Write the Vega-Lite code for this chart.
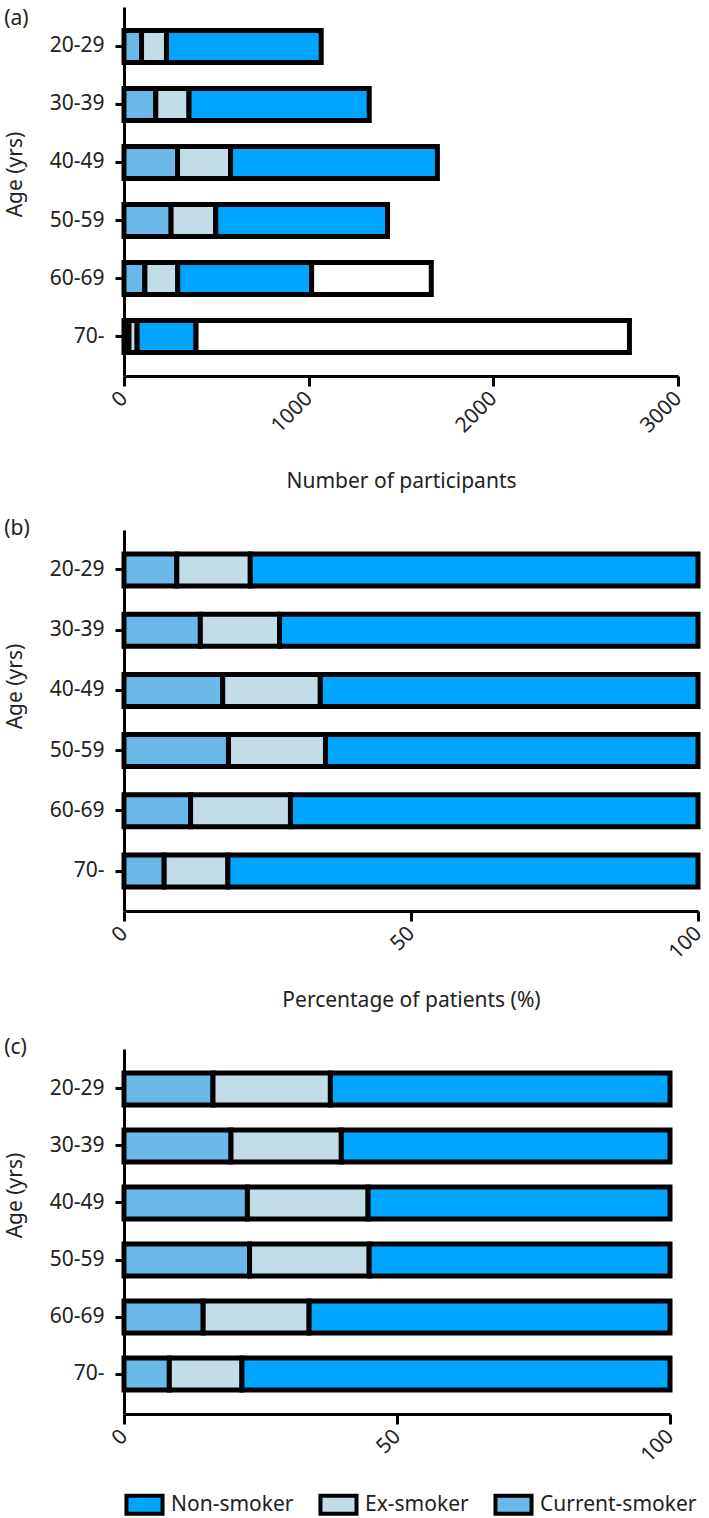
{
  "$schema": "https://vega.github.io/schema/vega-lite/v6.json",
  "padding": {"left": 4, "top": 7, "right": 5, "bottom": 0},
  "background": "white",
  "datasets": {
    "counts": [
      {"age": "20-29", "status": "Current-smoker", "n": 95},
      {"age": "20-29", "status": "Ex-smoker", "n": 135},
      {"age": "20-29", "status": "Non-smoker", "n": 838},
      {"age": "30-39", "status": "Current-smoker", "n": 172},
      {"age": "30-39", "status": "Ex-smoker", "n": 180},
      {"age": "30-39", "status": "Non-smoker", "n": 976},
      {"age": "40-49", "status": "Current-smoker", "n": 290},
      {"age": "40-49", "status": "Ex-smoker", "n": 287},
      {"age": "40-49", "status": "Non-smoker", "n": 1120},
      {"age": "50-59", "status": "Current-smoker", "n": 255},
      {"age": "50-59", "status": "Ex-smoker", "n": 242},
      {"age": "50-59", "status": "Non-smoker", "n": 930},
      {"age": "60-69", "status": "Current-smoker", "n": 113},
      {"age": "60-69", "status": "Ex-smoker", "n": 178},
      {"age": "60-69", "status": "Non-smoker", "n": 725},
      {"age": "60-69", "status": "Unknown", "n": 648},
      {"age": "70-", "status": "Current-smoker", "n": 27},
      {"age": "70-", "status": "Ex-smoker", "n": 44},
      {"age": "70-", "status": "Non-smoker", "n": 319},
      {"age": "70-", "status": "Unknown", "n": 2347}
    ],
    "pct_b": [
      {"age": "20-29", "status": "Current-smoker", "pct": 9.2},
      {"age": "20-29", "status": "Ex-smoker", "pct": 12.8},
      {"age": "20-29", "status": "Non-smoker", "pct": 78.0},
      {"age": "30-39", "status": "Current-smoker", "pct": 13.3},
      {"age": "30-39", "status": "Ex-smoker", "pct": 13.8},
      {"age": "30-39", "status": "Non-smoker", "pct": 72.9},
      {"age": "40-49", "status": "Current-smoker", "pct": 17.2},
      {"age": "40-49", "status": "Ex-smoker", "pct": 17.0},
      {"age": "40-49", "status": "Non-smoker", "pct": 65.8},
      {"age": "50-59", "status": "Current-smoker", "pct": 18.2},
      {"age": "50-59", "status": "Ex-smoker", "pct": 16.9},
      {"age": "50-59", "status": "Non-smoker", "pct": 64.9},
      {"age": "60-69", "status": "Current-smoker", "pct": 11.6},
      {"age": "60-69", "status": "Ex-smoker", "pct": 17.4},
      {"age": "60-69", "status": "Non-smoker", "pct": 71.0},
      {"age": "70-", "status": "Current-smoker", "pct": 7.0},
      {"age": "70-", "status": "Ex-smoker", "pct": 11.1},
      {"age": "70-", "status": "Non-smoker", "pct": 81.9}
    ],
    "pct_c": [
      {"age": "20-29", "status": "Current-smoker", "pct": 16.3},
      {"age": "20-29", "status": "Ex-smoker", "pct": 21.5},
      {"age": "20-29", "status": "Non-smoker", "pct": 62.2},
      {"age": "30-39", "status": "Current-smoker", "pct": 19.6},
      {"age": "30-39", "status": "Ex-smoker", "pct": 20.2},
      {"age": "30-39", "status": "Non-smoker", "pct": 60.2},
      {"age": "40-49", "status": "Current-smoker", "pct": 22.6},
      {"age": "40-49", "status": "Ex-smoker", "pct": 22.1},
      {"age": "40-49", "status": "Non-smoker", "pct": 55.3},
      {"age": "50-59", "status": "Current-smoker", "pct": 23.0},
      {"age": "50-59", "status": "Ex-smoker", "pct": 21.9},
      {"age": "50-59", "status": "Non-smoker", "pct": 55.1},
      {"age": "60-69", "status": "Current-smoker", "pct": 14.5},
      {"age": "60-69", "status": "Ex-smoker", "pct": 19.4},
      {"age": "60-69", "status": "Non-smoker", "pct": 66.1},
      {"age": "70-", "status": "Current-smoker", "pct": 8.3},
      {"age": "70-", "status": "Ex-smoker", "pct": 13.3},
      {"age": "70-", "status": "Non-smoker", "pct": 78.4}
    ]
  },
  "spacing": 26,
  "vconcat": [
    {
      "width": 554,
      "height": 369,
      "title": {"text": "(a)", "dy": 26},
      "data": {"name": "counts"},
      "mark": {"type": "bar", "stroke": "black", "strokeWidth": 5},
      "encoding": {
        "y": {
          "field": "age", "type": "nominal", "sort": null,
          "scale": {"paddingInner": 0.45, "paddingOuter": 0.405},
          "axis": {"title": "Age (yrs)", "titleY": 167}
        },
        "x": {
          "field": "n", "type": "quantitative",
          "scale": {"domain": [0, 3000], "nice": false},
          "axis": {"values": [0, 1000, 2000, 3000], "format": "d", "title": "Number of participants", "titlePadding": 34}
        },
        "color": {"field": "status", "type": "nominal", "title": null}
      }
    },
    {
      "width": 574,
      "height": 381,
      "title": {"text": "(b)", "dy": 13},
      "data": {"name": "pct_b"},
      "mark": {"type": "bar", "stroke": "black", "strokeWidth": 5},
      "encoding": {
        "y": {
          "field": "age", "type": "nominal", "sort": null,
          "scale": {"paddingInner": 0.469, "paddingOuter": 0.398},
          "axis": {"title": "Age (yrs)", "titleY": 156}
        },
        "x": {
          "field": "pct", "type": "quantitative",
          "scale": {"domain": [0, 100], "nice": false},
          "axis": {"values": [0, 50, 100], "title": "Percentage of patients (%)", "titlePadding": 27}
        },
        "color": {"field": "status", "type": "nominal", "title": null}
      }
    },
    {
      "width": 546,
      "height": 365,
      "title": {"text": "(c)", "dy": 13},
      "data": {"name": "pct_c"},
      "mark": {"type": "bar", "stroke": "black", "strokeWidth": 5},
      "encoding": {
        "y": {
          "field": "age", "type": "nominal", "sort": null,
          "scale": {"paddingInner": 0.439, "paddingOuter": 0.421},
          "axis": {"title": "Age (yrs)", "titleY": 146}
        },
        "x": {
          "field": "pct", "type": "quantitative",
          "scale": {"domain": [0, 100], "nice": false},
          "axis": {"values": [0, 50, 100], "title": null}
        },
        "color": {
          "field": "status", "type": "nominal", "title": null,
          "scale": {
            "domain": ["Current-smoker", "Ex-smoker", "Non-smoker", "Unknown"],
            "range": ["#6AB9E8", "#C3DDE8", "#00A5FF", "#FFFFFF"]
          },
          "legend": {
            "values": ["Non-smoker", "Ex-smoker", "Current-smoker"],
            "orient": "bottom",
            "direction": "horizontal",
            "offset": 18,
            "symbolType": "M-1,-0.5H1V0.5H-1Z",
            "symbolSize": 1300,
            "symbolStrokeColor": "black",
            "symbolStrokeWidth": 4,
            "symbolOpacity": 1,
            "labelFontSize": 21,
            "labelFont": "Noto Sans",
            "labelColor": "#222",
            "columnPadding": 18,
            "labelOffset": 6
          }
        }
      }
    }
  ],
  "config": {
    "font": "Noto Sans",
    "view": {"stroke": null},
    "title": {"anchor": "start", "frame": "bounds", "fontSize": 21, "fontWeight": "normal", "color": "#222", "font": "Noto Sans"},
    "axis": {
      "domainColor": "black", "domainWidth": 3,
      "tickColor": "black", "tickWidth": 3, "tickSize": 9,
      "grid": false,
      "labelFont": "Noto Sans", "labelFontSize": 21, "labelColor": "#222",
      "titleFont": "Noto Sans", "titleFontSize": 21, "titleFontWeight": "normal", "titleColor": "#222"
    },
    "axisY": {"labelPadding": 11, "titlePadding": 24},
    "axisX": {"labelAngle": -45, "labelAlign": "right", "labelBaseline": "middle", "labelPadding": 9, "tickSize": 10}
  }
}
